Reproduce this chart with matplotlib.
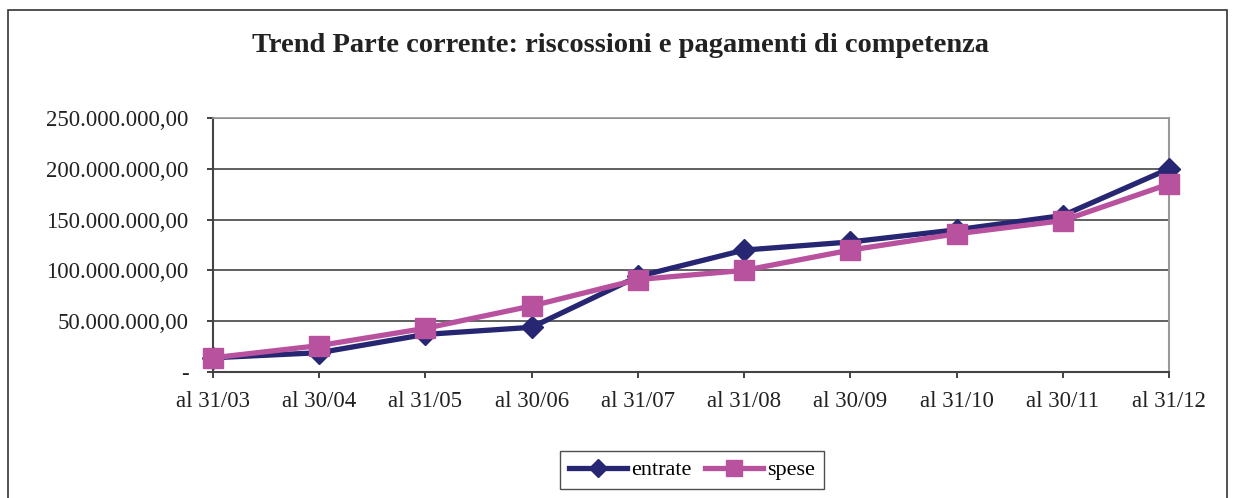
import matplotlib.pyplot as plt
from matplotlib.patches import Rectangle
from matplotlib.ticker import FuncFormatter

periodi = ["al 31/03", "al 30/04", "al 31/05", "al 30/06", "al 31/07",
           "al 31/08", "al 30/09", "al 31/10", "al 30/11", "al 31/12"]
entrate = [14e6, 19e6, 37e6, 44e6, 94e6, 120e6, 128e6, 140e6, 154e6, 200e6]
spese = [14e6, 26e6, 43e6, 65e6, 91e6, 100e6, 120e6, 136e6, 149e6, 185e6]

plt.rcParams["font.family"] = ["Liberation Serif", "DejaVu Serif"]


def fmt_euro(v, pos):
    if v == 0:
        return "-"
    s = f"{v:,.2f}"
    return s.replace(",", "X").replace(".", ",").replace("X", ".")


fig = plt.figure(figsize=(12.33, 4.98), dpi=100)

# outer frame of the chart
fig.patches.append(Rectangle((8 / 1233, -0.05), 1219 / 1233, 1.05 - 10 / 498,
                             transform=fig.transFigure, fill=False,
                             edgecolor="#333333", linewidth=1.2))

ax = fig.add_axes([213 / 1233, 1 - 372 / 498, (1169 - 213) / 1233, (372 - 118) / 498])

x = range(len(periodi))
ax.plot(x, entrate, color="#262673", linewidth=3.8, marker="D",
        markersize=11, label="entrate", zorder=3, clip_on=False)
ax.plot(x, spese, color="#B8529E", linewidth=3.8, marker="s",
        markersize=15, label="spese", zorder=4, clip_on=False)

ax.set_xlim(0, len(periodi) - 1)
ax.set_ylim(0, 250e6)
ax.set_yticks([0, 50e6, 100e6, 150e6, 200e6, 250e6])
ax.yaxis.set_major_formatter(FuncFormatter(fmt_euro))
ax.set_xticks(list(x))
ax.set_xticklabels(periodi)
ax.tick_params(axis="both", labelsize=16.5, colors="#222222", length=4.5, width=1.2)
ax.tick_params(axis="x", pad=9)
ax.tick_params(axis="y", pad=13)

ax.grid(axis="y", color="#444444", linewidth=1.2)
ax.set_axisbelow(True)
ax.spines["left"].set_color("#444444")
ax.spines["left"].set_linewidth(1.5)
ax.spines["bottom"].set_color("#444444")
ax.spines["bottom"].set_linewidth(1.5)
ax.spines["right"].set_color("#999999")
ax.spines["right"].set_linewidth(1.5)
ax.spines["top"].set_color("#999999")
ax.spines["top"].set_linewidth(1.2)

fig.text(620 / 1233, 1 - 46 / 498,
         "Trend Parte corrente: riscossioni e pagamenti di competenza",
         ha="center", va="center", fontsize=20.5, fontweight="bold", color="#222222")

leg = fig.legend(loc="center", bbox_to_anchor=(692 / 1233, 1 - 470 / 498),
                 ncol=2, fontsize=16, frameon=True, fancybox=False,
                 handlelength=2.6, handletextpad=0.2, columnspacing=0.6,
                 borderpad=0.4, markerscale=0.8)
leg.get_frame().set_edgecolor("#222222")
leg.get_frame().set_linewidth(1.0)

fig.savefig("out.png", dpi=100)
